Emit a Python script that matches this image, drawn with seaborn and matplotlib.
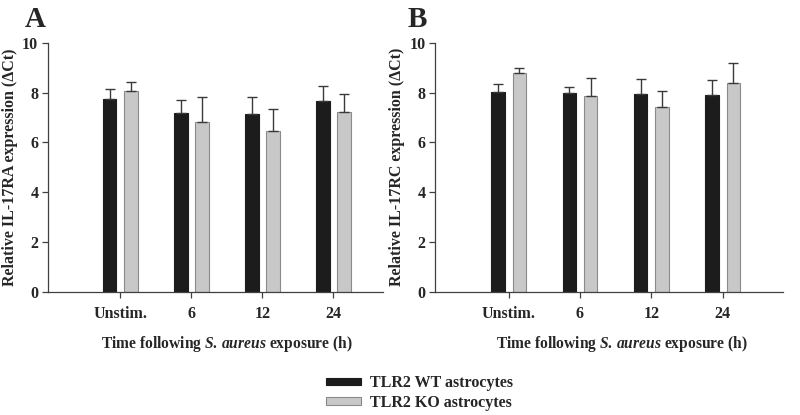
import matplotlib
matplotlib.use("Agg")
import matplotlib.pyplot as plt
from matplotlib.patches import Patch
import numpy as np
import pandas as pd
import seaborn as sns

# Valores
tempos = ["Unstim.", "6", "12", "24"]
grupos = ["TLR2 WT astrocytes", "TLR2 KO astrocytes"]

# Painel A: IL-17RA
ra_wt = [7.73, 7.16, 7.12, 7.67]
ra_wt_err = [0.40, 0.53, 0.71, 0.58]
ra_ko = [8.07, 6.81, 6.47, 7.20]
ra_ko_err = [0.34, 1.00, 0.86, 0.74]

# Painel B: IL-17RC
rc_wt = [8.03, 7.99, 7.93, 7.90]
rc_wt_err = [0.30, 0.22, 0.60, 0.59]
rc_ko = [8.77, 7.86, 7.43, 8.37]
rc_ko_err = [0.20, 0.71, 0.63, 0.80]

cores = {"TLR2 WT astrocytes": "#1c1c1c", "TLR2 KO astrocytes": "#c8c8c8"}
bordas = {"TLR2 WT astrocytes": "#1c1c1c", "TLR2 KO astrocytes": "#8a8a8a"}

sns.set_style("ticks")
plt.rcParams["font.family"] = ["Liberation Serif", "DejaVu Serif"]
plt.rcParams["font.weight"] = "bold"
plt.rcParams["axes.labelweight"] = "bold"
plt.rcParams["mathtext.fontset"] = "custom"
plt.rcParams["mathtext.rm"] = "Liberation Serif:bold"
plt.rcParams["mathtext.it"] = "Liberation Serif:italic:bold"
plt.rcParams["mathtext.bf"] = "Liberation Serif:bold"


def monta_tabela(wt, wt_err, ko, ko_err):
    linhas = []
    for i, t in enumerate(tempos):
        linhas.append({"tempo": t, "grupo": grupos[0], "valor": wt[i], "erro": wt_err[i]})
        linhas.append({"tempo": t, "grupo": grupos[1], "valor": ko[i], "erro": ko_err[i]})
    return pd.DataFrame(linhas)


def painel(ax, df, ylabel, letra, xlim, pos_letra, pos_xlabel):
    sns.barplot(data=df, x="tempo", y="valor", hue="grupo", order=tempos, hue_order=grupos,
                palette=cores, width=0.6, gap=0.37, errorbar=None, legend=False, ax=ax)
    # bordas e barras de erro (apenas para cima)
    for p in ax.patches:
        cx = p.get_x() + p.get_width() / 2
        k = int(round(cx))
        g = grupos[0] if cx < k else grupos[1]
        p.set_edgecolor(bordas[g])
        p.set_linewidth(0.8)
        linha = df[(df.tempo == tempos[k]) & (df.grupo == g)].iloc[0]
        ax.errorbar(cx, linha.valor, yerr=[[0], [linha.erro]], fmt="none",
                    ecolor="#3a3a3a", elinewidth=1, capsize=3.5, capthick=1, zorder=1)
    ax.set_ylim(0, 10)
    ax.set_yticks([0, 2, 4, 6, 8, 10])
    ax.set_xlim(*xlim)
    ax.set_ylabel(ylabel, fontsize=11.5, labelpad=3)
    ax.set_xlabel(r"Time following $\mathit{S.\,aureus}$ exposure (h)", fontsize=11.2)
    ax.xaxis.set_label_coords(pos_xlabel, -0.17)
    ax.tick_params(axis="both", labelsize=11.5, width=0.9, length=4, color="#404040")
    ax.tick_params(axis="x", pad=6)
    ax.tick_params(axis="y", pad=3)
    for s in ["left", "bottom"]:
        ax.spines[s].set_color("#404040")
        ax.spines[s].set_linewidth(0.9)
    sns.despine(ax=ax)
    for lab in ax.get_xticklabels() + ax.get_yticklabels():
        lab.set_fontweight("bold")
    ax.text(pos_letra, 1.095, letra, transform=ax.transAxes, fontsize=21, fontweight="bold",
            ha="left", va="center")


fig = plt.figure(figsize=(8, 4.15), dpi=100)
axA = fig.add_axes([0.060, 0.297, 0.419, 0.600])
axB = fig.add_axes([0.544, 0.297, 0.435, 0.600])

painel(axA, monta_tabela(ra_wt, ra_wt_err, ra_ko, ra_ko_err),
       "Relative IL-17RA expression (ΔCt)", "A", (-1.02, 3.70), -0.07, 0.534)
painel(axB, monta_tabela(rc_wt, rc_wt_err, rc_ko, rc_ko_err),
       "Relative IL-17RC expression (ΔCt)", "B", (-1.03, 3.85), -0.08, 0.537)

handles = [Patch(facecolor=cores[g], edgecolor=bordas[g], linewidth=0.8, label=g) for g in grupos]
fig.legend(handles=handles, loc="center", bbox_to_anchor=(0.524, 0.053), frameon=False,
           prop={"size": 11.5, "weight": "bold"}, handlelength=2.2, handleheight=0.35,
           handletextpad=0.55, labelspacing=0.25, borderpad=0.2)

fig.savefig("out.png", dpi=100)
